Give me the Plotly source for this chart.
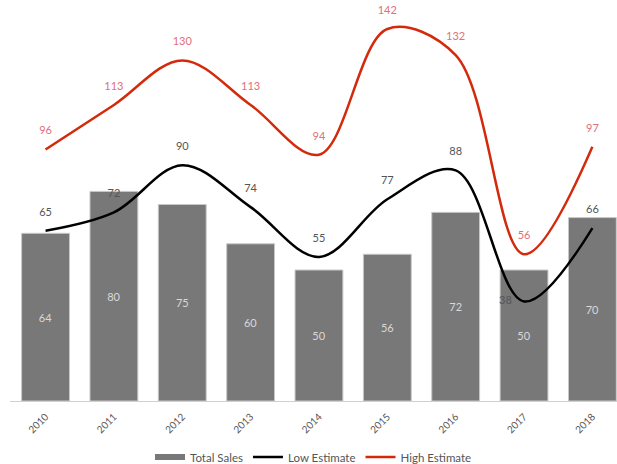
import plotly.graph_objects as go

years = ["2010", "2011", "2012", "2013", "2014", "2015", "2016", "2017", "2018"]
total_sales = [64, 80, 75, 60, 50, 56, 72, 50, 70]
low_estimate = [65, 72, 90, 74, 55, 77, 88, 38, 66]
high_estimate = [96, 113, 130, 113, 94, 142, 132, 56, 97]

xi = list(range(len(years)))
low_pos = ["top center"] * len(years)
low_pos[7] = "middle left"

FONT = "Lato, 'Open Sans', sans-serif"
BAR_COLOR = "#787878"

fig = go.Figure()
fig.add_trace(go.Bar(
    x=xi, y=total_sales, name="Total Sales", width=0.7, showlegend=False,
    marker=dict(color=BAR_COLOR, line=dict(color="#c8c8c8", width=1)),
    text=[str(v) for v in total_sales], textposition="inside",
    insidetextanchor="middle",
    textfont=dict(color="#d8d8d8", size=11, family=FONT),
    cliponaxis=False,
))
# legend entry for the bars (flat wide swatch like the reference)
fig.add_trace(go.Scatter(
    x=[None], y=[None], name="Total Sales", mode="lines",
    line=dict(color=BAR_COLOR, width=6),
))
fig.add_trace(go.Scatter(
    x=xi, y=low_estimate, name="Low Estimate", mode="lines+markers+text",
    line=dict(color="#000000", width=2.5, shape="spline", smoothing=1.0),
    marker=dict(size=18, color="rgba(0,0,0,0)"),
    text=[str(v) for v in low_estimate], textposition=low_pos,
    textfont=dict(color="#555555", size=11, family=FONT),
    cliponaxis=False,
))
fig.add_trace(go.Scatter(
    x=xi, y=high_estimate, name="High Estimate", mode="lines+markers+text",
    line=dict(color="#d42a0c", width=2.5, shape="spline", smoothing=1.0),
    marker=dict(size=18, color="rgba(0,0,0,0)"),
    text=[str(v) for v in high_estimate], textposition="top center",
    textfont=dict(color="#e0707a", size=11, family=FONT),
    cliponaxis=False,
))

fig.update_layout(
    width=617, height=464,
    margin=dict(l=10, r=0, t=8, b=63, autoexpand=False),
    plot_bgcolor="white", paper_bgcolor="white",
    font=dict(family=FONT, color="#555555", size=11),
    showlegend=True,
    legend=dict(orientation="h", x=0.5, xanchor="center", y=-0.1425, yanchor="middle",
                font=dict(size=11.5, color="#555555"), traceorder="normal",
                itemwidth=30),
    bargap=0.3,
    xaxis=dict(
        range=[-0.52, 8.36], tickmode="array", tickvals=xi, ticktext=years,
        tickangle=-45, tickfont=dict(size=10, color="#555555"),
        ticklabelstandoff=5,
        showgrid=False, zeroline=False, showline=True, linecolor="#d0d0d0", linewidth=1,
        ticks="", automargin=False,
    ),
    yaxis=dict(range=[0, 150], visible=False, showgrid=False, zeroline=False, automargin=False),
)

fig.write_html(
    "out.html",
    config={"displayModeBar": False},
    post_script="document.body.style.margin='0';document.body.style.overflow='hidden';",
)
